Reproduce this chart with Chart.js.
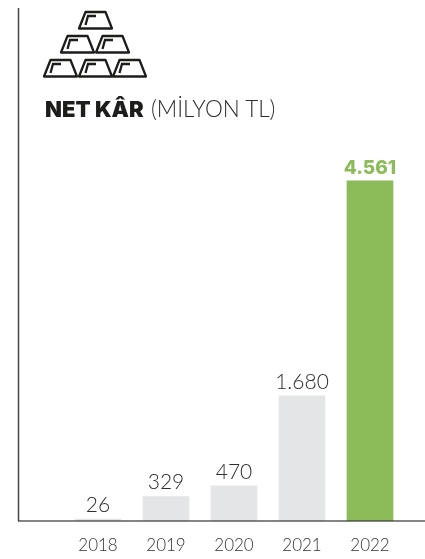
<!DOCTYPE html>
<html>
<head>
<meta charset="utf-8">
<style>
  html, body { margin: 0; padding: 0; background: #fff; }
  #wrap { position: relative; width: 425px; height: 559px; overflow: hidden; }
  #icon { position: absolute; left: 0; top: 0; }
  #title {
    position: absolute; left: 45px; top: 95px; white-space: nowrap;
    font-family: Lato, sans-serif; font-size: 22.5px; color: #2e2e2d; font-weight: 300;
  }
  #title b { font-family: Inter, sans-serif; font-weight: 900; font-size: 22px; color: #1d1d1b; margin-right: 1px; }
  canvas { position: absolute; left: 0; top: 0; }
</style>
</head>
<body>
<div id="wrap">
  <canvas id="myChart" width="425" height="559"></canvas>
  <svg id="icon" width="160" height="85">
    <defs>
      <g id="bar" fill="none" stroke="#1d1d1b">
        <path d="M1,17.5 L34,17.5 L27.5,1 L7.5,1 Z" stroke-width="2.3" stroke-linejoin="round"/>
        <path d="M7.5,14 L10,5 L18,5" stroke-width="2.3"/>
      </g>
    </defs>
    <use href="#bar" x="78" y="11"/>
    <use href="#bar" x="60" y="35"/>
    <use href="#bar" x="95" y="35"/>
    <use href="#bar" x="43" y="59"/>
    <use href="#bar" x="78" y="59"/>
    <use href="#bar" x="112" y="59"/>
  </svg>
  <div id="title"><b>NET KÂR</b> (MİLYON TL)</div>
</div>
<script src="https://cdn.jsdelivr.net/npm/chart.js@4"></script>
<script>
  const years = ["2018", "2019", "2020", "2021", "2022"];
  const netProfit = [26, 329, 470, 1680, 4561];
  const barColors = ['#e4e5e7', '#e4e5e7', '#e4e5e7', '#e4e5e7', '#8cbb5a'];
  const yMax = 6880;

  // axis lines run past the bars, the scales themselves are narrower
  const axisLines = {
    id: 'axisLines',
    afterDatasetsDraw(chart) {
      const c = chart.ctx;
      const base = chart.scales.y.bottom;
      c.save();
      c.strokeStyle = '#444';
      c.lineWidth = 1.5;
      c.beginPath();
      c.moveTo(18.5, chart.scales.y.top);
      c.lineTo(18.5, base);
      c.stroke();
      c.strokeStyle = 'rgba(50,50,50,0.6)';
      c.lineWidth = 2;
      c.beginPath();
      c.moveTo(18, base);
      c.lineTo(425, base);
      c.stroke();
      c.restore();
    }
  };

  const valueLabels = {
    id: 'valueLabels',
    afterDatasetsDraw(chart) {
      const c = chart.ctx;
      c.save();
      c.textAlign = 'center';
      c.textBaseline = 'alphabetic';
      chart.getDatasetMeta(0).data.forEach(function(bar, i) {
        const last = i === netProfit.length - 1;
        c.font = last ? '800 19px Inter, sans-serif' : '300 21px Lato, sans-serif';
        c.fillStyle = last ? '#8cbb5a' : '#2e2e2d';
        c.fillText(netProfit[i].toLocaleString('tr-TR'), bar.x, bar.y - 7);
      });
      c.restore();
    }
  };

  let ctx = document.getElementById('myChart').getContext('2d');

  let chart = new Chart(ctx, {
    type: 'bar',
    data: {
      labels: years,
      datasets: [{
        data: netProfit,
        backgroundColor: barColors,
        barThickness: 46,
      }]
    },
    options: {
      responsive: false,
      animation: false,
      layout: { padding: { left: 64, right: 21, top: 8, bottom: 0 } },
      plugins: { legend: { display: false }, tooltip: { enabled: false } },
      scales: {
        x: {
          grid: { display: false },
          border: { display: false },
          afterFit(axis) { axis.height = 38; },
          ticks: {
            color: '#333332',
            padding: 6,
            maxRotation: 0,
            font: { family: 'Lato, sans-serif', size: 17, weight: 300 },
          },
        },
        y: {
          display: false,
          min: 0,
          max: yMax,
        },
      },
    },
    plugins: [axisLines, valueLabels],
  });
</script>
</body>
</html>
